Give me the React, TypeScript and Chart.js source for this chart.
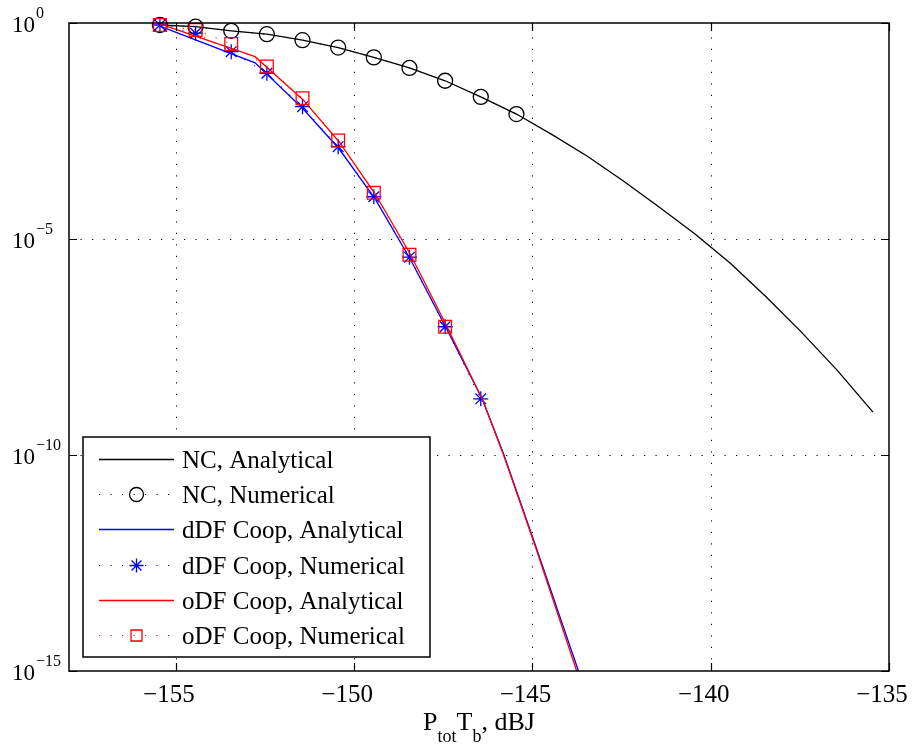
import React, { useEffect, useRef } from "react";
import { Chart, registerables } from "chart.js";

Chart.register(...registerables);

const FONT = '"Liberation Serif", "Times New Roman", serif';

// ---- tick labels ----
const xTickValues = [-155, -150, -145, -140, -135];
const xTickLabels = ["\u2212155", "\u2212150", "\u2212145", "\u2212140", "\u2212135"];
const yTickValues = [1, 1e-5, 1e-10, 1e-15];
const yTickExponents = ["0", "\u22125", "\u221210", "\u221215"];
const xGridValues = [-155, -150, -145, -140];
const yGridValues = [1e-5, 1e-10];

// ---- series labels ----
const seriesLabels = [
  "NC, Analytical",
  "NC, Numerical",
  "dDF Coop, Analytical",
  "dDF Coop, Numerical",
  "oDF Coop, Analytical",
  "oDF Coop, Numerical",
];

// ---- NC ----
const ncAnalyticalX = [
  -155.45, -154.45, -153.45, -152.45, -151.45, -150.45, -149.45, -148.45, -147.45, -146.45,
  -145.45, -144.45, -143.45, -142.45, -141.45, -140.45, -139.45, -138.45, -137.45, -136.45,
  -135.45,
];
const ncAnalyticalY = [
  0.9, 0.82, 0.66, 0.55, 0.4, 0.27, 0.16, 0.091, 0.046, 0.0195,
  0.0078, 2.6e-3, 8.1e-4, 2.2e-4, 5.5e-5, 1.32e-5, 2.75e-6, 4.6e-7, 6.9e-8, 9.1e-9,
  9.8e-10,
];
const ncNumericalX = [
  -155.45, -154.45, -153.45, -152.45, -151.45, -150.45, -149.45, -148.45, -147.45, -146.45, -145.45,
];
const ncNumericalY = [0.9, 0.82, 0.66, 0.55, 0.4, 0.27, 0.16, 0.091, 0.046, 0.0195, 0.0078];

// ---- dDF cooperative ----
const ddfAnalyticalX = [
  -155.45, -152.78, -151.43, -150.42, -149.41, -148.43, -147.42, -146.4, -145.81, -144.92, -143.71,
];
const ddfAnalyticalY = [
  0.85, 0.12, 0.0102, 1.21e-3, 8.4e-5, 3.44e-6, 8.7e-8, 1.9e-9, 1.05e-10, 8.3e-13, 1e-15,
];
const ddfNumericalX = [
  -155.45, -154.45, -153.45, -152.45, -151.45, -150.45, -149.45, -148.45, -147.45, -146.45,
];
const ddfNumericalY = [
  0.9, 0.58, 0.217, 0.0686, 0.01156, 1.37e-3, 9.5e-5, 3.8e-6, 9.3e-8, 2.0e-9,
];

// ---- oDF cooperative ----
const odfAnalyticalX = [
  -155.45, -152.78, -151.43, -150.42, -149.41, -148.43, -147.42, -146.4, -145.81, -144.92, -143.76,
];
const odfAnalyticalY = [
  0.95, 0.166, 0.0166, 1.76e-3, 1.1e-4, 4.5e-6, 1.02e-7, 1.9e-9, 1.0e-10, 7.6e-13, 1e-15,
];
const odfNumericalX = [
  -155.45, -154.45, -153.45, -152.45, -151.45, -150.45, -149.45, -148.45, -147.45,
];
const odfNumericalY = [0.9, 0.69, 0.327, 0.098, 0.0182, 1.9e-3, 1.17e-4, 4.3e-6, 9.3e-8];

const BLACK = "#000000";
const BLUE = "#0000ff";
const RED = "#ff0000";

const toPts = (xs: number[], ys: number[]) => xs.map((x, i) => ({ x, y: ys[i] }));

type Style = { color: string; dotted: boolean; marker: string | null; radius: number };
const styles: Style[] = [
  { color: BLACK, dotted: false, marker: null, radius: 0 },
  { color: BLACK, dotted: true, marker: "circle", radius: 7.5 },
  { color: BLUE, dotted: false, marker: null, radius: 0 },
  { color: BLUE, dotted: true, marker: "star", radius: 7.5 },
  { color: RED, dotted: false, marker: null, radius: 0 },
  { color: RED, dotted: true, marker: "rect", radius: 9 },
];

const DOT = [1.2, 10.3];

const decorPlugin = {
  id: "decor",
  beforeDraw(chart: any) {
    const ctx = chart.ctx;
    ctx.save();
    ctx.fillStyle = "#ffffff";
    ctx.fillRect(0, 0, chart.width, chart.height);
    ctx.restore();
  },
  beforeDatasetsDraw(chart: any) {
    const ctx = chart.ctx;
    const { left, right, top, bottom } = chart.chartArea;
    const xs = chart.scales.x;
    const ys = chart.scales.y;
    ctx.save();
    ctx.strokeStyle = "#000";
    ctx.lineWidth = 1;
    ctx.setLineDash(DOT);
    xGridValues.forEach((v) => {
      const px = Math.round(xs.getPixelForValue(v)) + 0.5;
      ctx.beginPath();
      ctx.moveTo(px, bottom);
      ctx.lineTo(px, top);
      ctx.stroke();
    });
    yGridValues.forEach((v) => {
      const py = Math.round(ys.getPixelForValue(v)) + 0.5;
      ctx.beginPath();
      ctx.moveTo(left, py);
      ctx.lineTo(right, py);
      ctx.stroke();
    });
    ctx.restore();
  },
  afterDatasetsDraw(chart: any) {
    const ctx = chart.ctx;
    const { left, right, top, bottom } = chart.chartArea;
    const xs = chart.scales.x;
    const ys = chart.scales.y;
    ctx.save();
    ctx.setLineDash([]);
    ctx.strokeStyle = "#000";
    ctx.fillStyle = "#000";

    // axes box
    ctx.lineWidth = 1.5;
    ctx.strokeRect(left, top, right - left, bottom - top);

    // inward ticks
    ctx.lineWidth = 1.2;
    const TL = 8;
    xTickValues.forEach((v) => {
      const px = Math.round(xs.getPixelForValue(v)) + 0.5;
      ctx.beginPath();
      ctx.moveTo(px, bottom);
      ctx.lineTo(px, bottom - TL);
      ctx.moveTo(px, top);
      ctx.lineTo(px, top + TL);
      ctx.stroke();
    });
    yTickValues.forEach((v) => {
      const py = Math.round(ys.getPixelForValue(v)) + 0.5;
      ctx.beginPath();
      ctx.moveTo(left, py);
      ctx.lineTo(left + TL, py);
      ctx.moveTo(right, py);
      ctx.lineTo(right - TL, py);
      ctx.stroke();
    });

    // x tick labels (digits centred on tick)
    ctx.font = `25px ${FONT}`;
    ctx.textBaseline = "alphabetic";
    ctx.textAlign = "right";
    xTickValues.forEach((v, i) => {
      const px = xs.getPixelForValue(v);
      const digits = xTickLabels[i].replace("\u2212", "");
      const dw = ctx.measureText(digits).width;
      ctx.fillText(xTickLabels[i], px + dw / 2, bottom + 31);
    });

    // y tick labels 10^e
    ctx.textAlign = "left";
    yTickValues.forEach((v, i) => {
      const py = ys.getPixelForValue(v);
      ctx.font = `23px ${FONT}`;
      ctx.fillText("10", 12, py + 9);
      const w = ctx.measureText("10").width;
      ctx.font = `16px ${FONT}`;
      ctx.fillText(yTickExponents[i], 12 + w + 1, py - 5);
    });

    // x axis title: P_tot T_b, dBJ
    const parts: [string, boolean][] = [
      ["P", false],
      ["tot", true],
      ["T", false],
      ["b", true],
      [", dBJ", false],
    ];
    const mainF = `26px ${FONT}`;
    const subF = `18px ${FONT}`;
    let total = 0;
    parts.forEach(([t, s]) => {
      ctx.font = s ? subF : mainF;
      total += ctx.measureText(t).width;
    });
    let cx = (left + right) / 2 - total / 2;
    const baseY = bottom + 59;
    parts.forEach(([t, s]) => {
      ctx.font = s ? subF : mainF;
      ctx.fillText(t, cx, s ? baseY + 12 : baseY);
      cx += ctx.measureText(t).width;
    });

    // legend
    const lx = 83, ly = 437, lw = 347, lh = 220;
    ctx.fillStyle = "#fff";
    ctx.fillRect(lx, ly, lw, lh);
    ctx.lineWidth = 1.5;
    ctx.strokeStyle = "#000";
    ctx.strokeRect(lx, ly, lw, lh);
    const x0 = 99, x1 = 174, tx = 182;
    seriesLabels.forEach((label, i) => {
      const st = styles[i];
      const ry = Math.round(459 + i * 35.2) + 0.5;
      ctx.strokeStyle = st.color;
      ctx.lineWidth = st.dotted ? 1 : 1.3;
      ctx.setLineDash(st.dotted ? DOT : []);
      ctx.beginPath();
      ctx.moveTo(x0, ry);
      ctx.lineTo(x1, ry);
      ctx.stroke();
      ctx.setLineDash([]);
      if (st.marker) {
        const mx = (x0 + x1) / 2;
        ctx.lineWidth = 1.3;
        ctx.beginPath();
        if (st.marker === "circle") {
          ctx.arc(mx, ry, 7, 0, Math.PI * 2);
        } else if (st.marker === "star") {
          const r = 7;
          const d = r * Math.SQRT1_2;
          ctx.moveTo(mx - r, ry); ctx.lineTo(mx + r, ry);
          ctx.moveTo(mx, ry - r); ctx.lineTo(mx, ry + r);
          ctx.moveTo(mx - d, ry - d); ctx.lineTo(mx + d, ry + d);
          ctx.moveTo(mx - d, ry + d); ctx.lineTo(mx + d, ry - d);
        } else {
          const h = 5.5;
          ctx.rect(mx - h, ry - h, 2 * h, 2 * h);
        }
        ctx.stroke();
      }
      ctx.fillStyle = "#000";
      ctx.font = `25px ${FONT}`;
      ctx.textAlign = "left";
      ctx.fillText(label, tx, ry + 8);
    });
    ctx.restore();
  },
};

export default function App() {
  const ref = useRef<HTMLCanvasElement>(null);
  useEffect(() => {
    const xsArr = [ncAnalyticalX, ncNumericalX, ddfAnalyticalX, ddfNumericalX, odfAnalyticalX, odfNumericalX];
    const ysArr = [ncAnalyticalY, ncNumericalY, ddfAnalyticalY, ddfNumericalY, odfAnalyticalY, odfNumericalY];
    const datasets = seriesLabels.map((label, i) => {
      const st = styles[i];
      return {
        label,
        data: toPts(xsArr[i], ysArr[i]),
        borderColor: st.color,
        backgroundColor: "rgba(0,0,0,0)",
        borderWidth: st.dotted ? 1 : 1.3,
        borderDash: st.dotted ? DOT : [],
        tension: 0,
        fill: false,
        clip: false as any,
        order: 5 - i,
        pointStyle: (st.marker || "circle") as any,
        pointRadius: st.radius,
        pointHoverRadius: st.radius,
        pointBorderColor: st.color,
        pointBackgroundColor: "rgba(0,0,0,0)",
        pointBorderWidth: 1.3,
      };
    });
    const chart = new Chart(ref.current as HTMLCanvasElement, {
      type: "line",
      data: { datasets: datasets as any },
      options: {
        animation: false,
        responsive: false,
        maintainAspectRatio: false,
        devicePixelRatio: 1,
        layout: { padding: { top: 23, right: 25, bottom: 0, left: 0 } },
        plugins: { legend: { display: false }, tooltip: { enabled: false } },
        events: [],
        scales: {
          x: {
            type: "linear",
            min: -158,
            max: -135,
            grid: { display: false },
            border: { display: false },
            ticks: { display: false },
            afterBuildTicks: (s: any) => {
              s.ticks = xTickValues.map((v) => ({ value: v }));
            },
            afterFit: (s: any) => {
              s.height = 76;
            },
          },
          y: {
            type: "logarithmic",
            min: 1e-15,
            max: 1,
            grid: { display: false },
            border: { display: false },
            ticks: { display: false },
            afterBuildTicks: (s: any) => {
              s.ticks = yTickValues.map((v) => ({ value: v }));
            },
            afterFit: (s: any) => {
              s.width = 69;
            },
          },
        },
      } as any,
      plugins: [decorPlugin],
    });
    return () => chart.destroy();
  }, []);
  return (
    <canvas
      ref={ref}
      width={914}
      height={747}
      style={{ position: "fixed", left: 0, top: 0, width: 914, height: 747, display: "block" }}
    />
  );
}
